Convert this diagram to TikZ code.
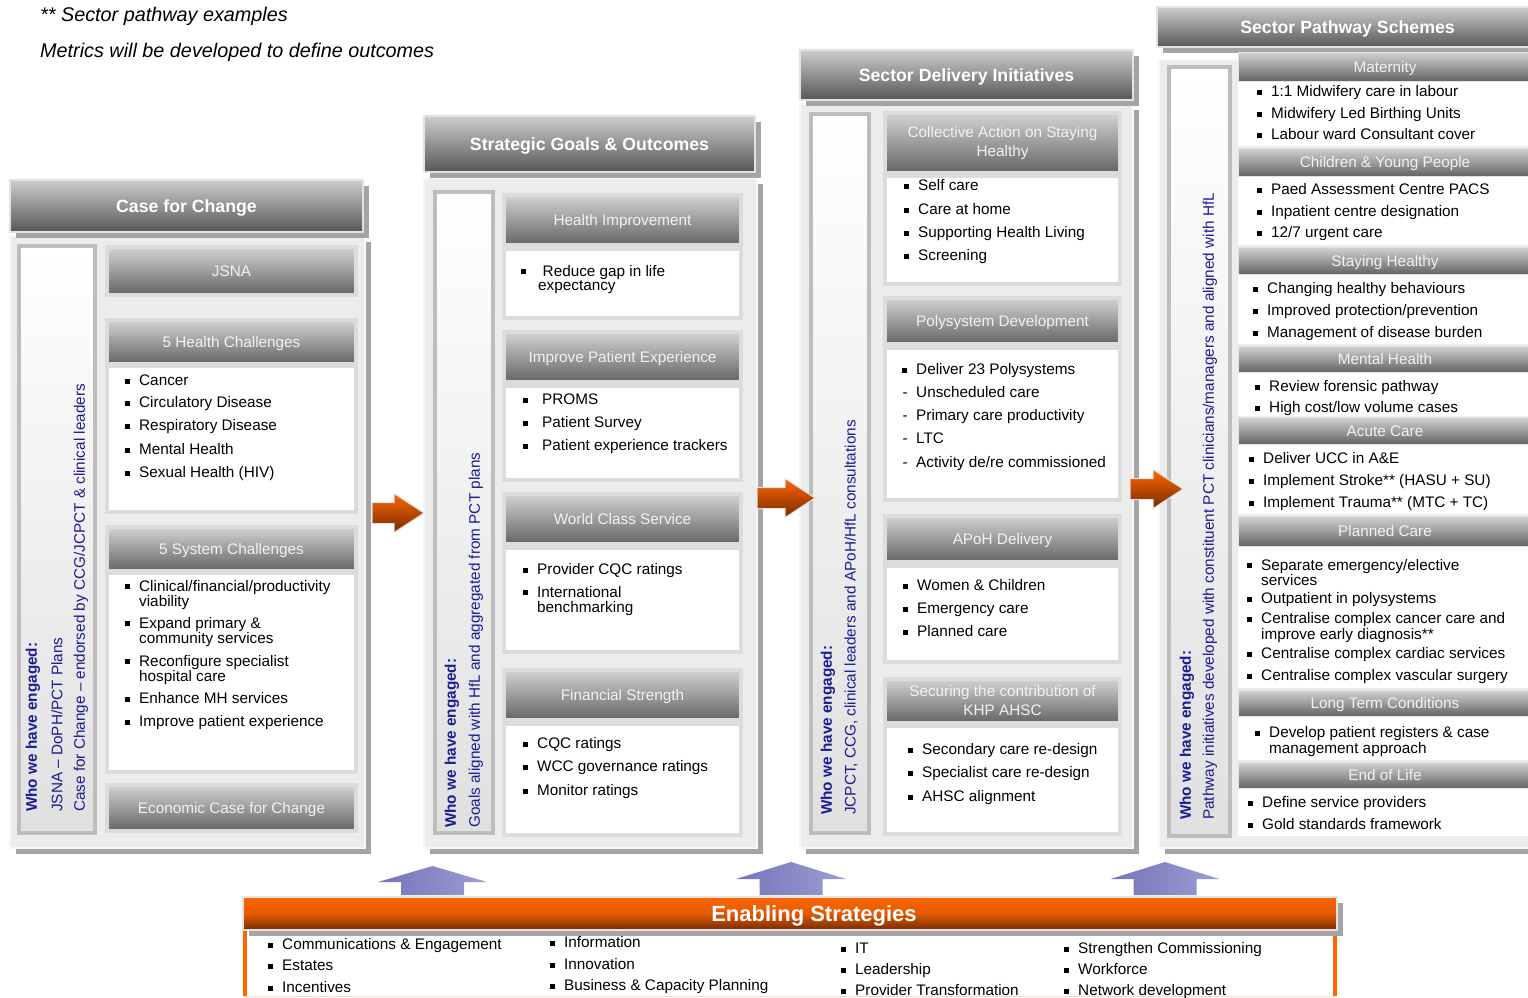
\documentclass[tikz,border=0pt]{standalone}
\usepackage{fontspec}
\setmainfont{Liberation Sans}
\usetikzlibrary{shadows}
\definecolor{hdtop}{HTML}{CDCDCD}
\definecolor{hdbot}{HTML}{575757}
\definecolor{subtop}{HTML}{D3D3D3}
\definecolor{subbot}{HTML}{646464}
\definecolor{subtext}{HTML}{F2F2F2}
\definecolor{hdedge}{HTML}{E2E2E2}
\definecolor{boxedge}{HTML}{DCDCDC}
\definecolor{panelbg}{HTML}{ECECEC}
\definecolor{paneledge}{HTML}{F7F7F7}
\definecolor{shadowgray}{HTML}{A4A4A4}
\definecolor{whoedge}{HTML}{BDBDBD}
\definecolor{whobot}{HTML}{E0E0E0}
\definecolor{whoblue}{HTML}{1B1B94}
\definecolor{esorange}{HTML}{FF6600}
\definecolor{esbrown}{HTML}{772A00}
\definecolor{uplight}{HTML}{9C9CD3}
\definecolor{updark}{HTML}{7575BA}
\newcommand\sqb[1][9.5pt]{\vphantom{Ag}\llap{\rule[2pt]{5pt}{5pt}\hspace{#1}}}
\newcommand\dsh{\vphantom{Ag}\llap{-\hspace{8.5pt}}}
\tikzset{
  % dimensioni di una scatola (pixel del disegno)
  wh/.style 2 args={minimum width=#1pt, minimum height=#2pt},
  % ombra grigia in basso a destra
  boxshadow/.style={drop shadow={shadow xshift=6pt, shadow yshift=-6pt,
    fill=shadowgray, opacity=1}},
  % note in alto a sinistra
  note/.style={anchor=west, inner sep=0pt, text height=14.2pt, text depth=0pt,
    font=\fontsize{19.8}{22}\selectfont\itshape},
  % intestazione di colonna
  colhead/.style={draw=hdedge, line width=1.5pt, top color=hdtop,
    bottom color=hdbot, text=white, inner sep=0pt, boxshadow,
    text height=12.7pt, text depth=0pt,
    font=\fontsize{17.7}{20}\selectfont\bfseries},
  % pannello grigio di colonna
  panel/.style={draw=paneledge, line width=2pt, fill=panelbg, inner sep=0pt,
    boxshadow},
  % riquadro verticale "chi abbiamo coinvolto"
  whobox/.style={draw=whoedge, line width=4pt, top color=white,
    bottom color=whobot, inner sep=0pt},
  who/.style={rotate=90, anchor=west, inner sep=0pt, text=whoblue,
    font=\fontsize{15.3}{17}\selectfont},
  whob/.style={who, font=\fontsize{15.3}{17}\selectfont\bfseries},
  % sotto-intestazione e corpo bianco
  subbase/.style={draw=boxedge, line width=4pt, top color=subtop,
    bottom color=subbot, text=subtext, align=center, inner sep=0pt,
    font=\fontsize{15.3}{19}\selectfont},
  subhead/.style={subbase, text height=11pt, text depth=0pt},
  bodybox/.style={draw=boxedge, line width=4pt, fill=white, inner sep=0pt},
  pathhead/.style={subhead, draw=hdedge, line width=1pt},
  pathbody/.style={fill=white, inner sep=0pt},
  % voce di elenco
  item/.style={anchor=west, align=left, inner sep=0pt, yshift=-2pt,
    font=\fontsize{15.3}{14}\selectfont},
  % frecce a blocco
  flow/.style={top color=esorange, bottom color=esbrown, draw=hdedge,
    line width=1pt},
  upflow/.style={left color=updark, right color=uplight},
  % strategie abilitanti
  eshead/.style={draw=hdedge, line width=1.5pt, top color=esorange,
    bottom color=esbrown, middle color=esorange!80!esbrown, inner sep=0pt,
    boxshadow},
  estitle/.style={text=white, inner sep=0pt, text height=15.8pt, text depth=0pt,
    font=\fontsize{22}{24}\selectfont\bfseries},
  esbody/.style={fill=white, inner sep=0pt},
  esside/.style={esorange, line width=4pt},
}
\begin{document}
\begin{tikzpicture}[x=1pt, y=-1pt]
  \useasboundingbox (0,0) rectangle (1528,997);
  \node[note] (nsp) at (40,14) {** Sector pathway examples};
  \node[note] (nmet) at (40,50) {Metrics will be developed to define outcomes};

  % Case for Change
  \node[panel, wh={355}{612}] (cfc) at (187.5,542) {};
  \node[colhead, wh={353}{52}] (cfch) at (186.5,206) {Case for Change};
  \node[whobox, wh={76}{587}] (cfcw) at (57,539.5) {};
  \node[whob] (cfcw1) at (33,812) {Who we have engaged:};
  \node[who] (cfcw2) at (57,812) {JSNA – DoPH/PCT Plans};
  \node[who] (cfcw3) at (81,812) {Case for Change – endorsed by CCG/JCPCT \& clinical leaders};
  \node[subhead, wh={249}{48}] (jsna) at (231.5,271) {JSNA};
  \node[subhead, wh={249}{44}] (hch) at (231.5,342) {5 Health Challenges};
  \node[bodybox, wh={249}{146}] (hcb) at (231.5,439) {};
  \foreach \yy/\txt [count=\i] in {380/Cancer, 402/Circulatory Disease,
      425/Respiratory Disease, 449/Mental Health, 472/Sexual Health (HIV)}
    \node[item] (hc\i) at (139,\yy) {\sqb\txt};
  \node[subhead, wh={249}{44}] (sch) at (231.5,549) {5 System Challenges};
  \node[bodybox, wh={249}{199}] (scb) at (231.5,672.5) {};
  \foreach \yy/\txt [count=\i] in {593/{Clinical/financial/productivity\\viability},
      630/{Expand primary \&\\community services},
      668/{Reconfigure specialist\\hospital care},
      698/Enhance MH services, 721/Improve patient experience}
    \node[item] (sc\i) at (139,\yy) {\sqb\txt};
  \node[subhead, wh={249}{46}] (ecc) at (231.5,808) {Economic Case for Change};

  % Strategic Goals & Outcomes
  \node[panel, wh={333}{670}] (sgo) at (590.5,513) {};
  \node[colhead, wh={331}{56}] (sgoh) at (589.5,144) {Strategic Goals \& Outcomes};
  \node[whobox, wh={58}{641}] (sgow) at (464,512.5) {};
  \node[whob] (sgow1) at (452,828) {Who we have engaged:};
  \node[who] (sgow2) at (476,828) {Goals aligned with HfL and aggregated from PCT plans};
  \node[subhead, wh={237}{50}] (hih) at (622.5,220) {Health Improvement};
  \node[bodybox, wh={237}{69}] (hib) at (622.5,283.5) {};
  \node[item] (hi1) at (538,277.5) {\sqb[12.5pt]\hspace{4.5pt}Reduce gap in life\\expectancy};
  \node[subhead, wh={237}{50}] (ipeh) at (622.5,357) {Improve Patient Experience};
  \node[bodybox, wh={237}{94}] (ipeb) at (622.5,433) {};
  \foreach \yy/\txt [count=\i] in {399/PROMS, 422/Patient Survey,
      445/Patient experience trackers}
    \node[item] (ipe\i) at (542,\yy) {\sqb[14.5pt]\txt};
  \node[subhead, wh={237}{50}] (wcsh) at (622.5,519) {World Class Service};
  \node[bodybox, wh={237}{104}] (wcsb) at (622.5,600) {};
  \foreach \yy/\txt [count=\i] in {569/Provider CQC ratings,
      599/{International\\benchmarking}}
    \node[item] (wcs\i) at (537,\yy) {\sqb\txt};
  \node[subhead, wh={237}{50}] (fsh) at (622.5,695) {Financial Strength};
  \node[bodybox, wh={237}{111}] (fsb) at (622.5,779.5) {};
  \foreach \yy/\txt [count=\i] in {743/CQC ratings, 766/WCC governance ratings,
      790/Monitor ratings}
    \node[item] (fs\i) at (537,\yy) {\sqb\txt};

  % Sector Delivery Initiatives
  \node[panel, wh={333}{744}] (sdi) at (966.5,476) {};
  \node[colhead, wh={333}{50}] (sdih) at (966.5,75) {Sector Delivery Initiatives};
  \node[whobox, wh={58}{719}] (sdiw) at (840,473.5) {};
  \node[whob] (sdiw1) at (828,815) {Who we have engaged:};
  \node[who] (sdiw2) at (851,815) {JCPCT, CCG, clinical leaders and APoH/HfL consultations};
  \node[subbase, wh={235}{60}] (cah) at (1002.5,143) {Collective Action on Staying\\Healthy};
  \node[bodybox, wh={235}{108}] (cab) at (1002.5,230) {};
  \foreach \yy/\txt [count=\i] in {185/Self care, 209/Care at home,
      232/Supporting Health Living, 255/Screening}
    \node[item] (ca\i) at (918,\yy) {\sqb\txt};
  \node[subhead, wh={235}{46}] (pdh) at (1002.5,321) {Polysystem Development};
  \node[bodybox, wh={235}{152}] (pdb) at (1002.5,424) {};
  \node[item] (pd1) at (916,369) {\sqb Deliver 23 Polysystems};
  \foreach \yy/\txt [count=\i from 2] in {392/Unscheduled care,
      415/Primary care productivity, 438/LTC, 462/{Activity de/re commissioned}}
    \node[item] (pd\i) at (916,\yy) {\dsh\txt};
  \node[subhead, wh={235}{46}] (aph) at (1002.5,539) {APoH Delivery};
  \node[bodybox, wh={235}{96}] (apb) at (1002.5,614) {};
  \foreach \yy/\txt [count=\i] in {585/Women \& Children, 608/Emergency care,
      631/Planned care}
    \node[item] (ap\i) at (917,\yy) {\sqb\txt};
  \node[subbase, wh={235}{44}] (khph) at (1002.5,701) {Securing the contribution of\\KHP AHSC};
  \node[bodybox, wh={235}{108}] (khpb) at (1002.5,780) {};
  \foreach \yy/\txt [count=\i] in {749/Secondary care re-design,
      772/Specialist care re-design, 796/AHSC alignment}
    \node[item] (khp\i) at (922,\yy) {\sqb\txt};

  % Sector Pathway Schemes
  \node[panel, wh={381}{788}] (sps) at (1349.5,454) {};
  \node[colhead, wh={381}{40}] (spsh) at (1347.5,27) {Sector Pathway Schemes};
  \node[whobox, wh={61}{769}] (spsw) at (1199.5,451.5) {};
  \node[whob] (spsw1) at (1187,820) {Who we have engaged:};
  \node[who] (spsw2) at (1210,820) {Pathway initiatives developed with constituent PCT clinicians/managers and aligned with HfL};
  \node[pathhead, wh={294}{29}] (math) at (1385,66.5) {Maternity};
  \node[pathbody, wh={294}{64}] (matb) at (1385,114) {};
  \foreach \yy/\txt [count=\i] in {91/1:1 Midwifery care in labour,
      113/Midwifery Led Birthing Units, 134/Labour ward Consultant cover}
    \node[item] (mat\i) at (1271,\yy) {\sqb\txt};
  \node[pathhead, wh={294}{28}] (cyph) at (1385,162) {Children \& Young People};
  \node[pathbody, wh={294}{68}] (cypb) at (1385,211) {};
  \foreach \yy/\txt [count=\i] in {189/Paed Assessment Centre PACS,
      211/Inpatient centre designation, 232/{12/7 urgent care}}
    \node[item] (cyp\i) at (1271,\yy) {\sqb\txt};
  \node[pathhead, wh={294}{27}] (shh) at (1385,260.5) {Staying Healthy};
  \node[pathbody, wh={294}{69}] (shb) at (1385,309.5) {};
  \foreach \yy/\txt [count=\i] in {288/Changing healthy behaviours,
      310/{Improved protection/prevention}, 332/Management of disease burden}
    \node[item] (sh\i) at (1267,\yy) {\sqb\txt};
  \node[pathhead, wh={294}{26}] (mhh) at (1385,359) {Mental Health};
  \node[pathbody, wh={294}{43}] (mhb) at (1385,394.5) {};
  \foreach \yy/\txt [count=\i] in {386/Review forensic pathway,
      407/{High cost/low volume cases}}
    \node[item] (mh\i) at (1269,\yy) {\sqb\txt};
  \node[pathhead, wh={294}{27}] (ach) at (1385,430.5) {Acute Care};
  \node[pathbody, wh={294}{69}] (acb) at (1385,479.5) {};
  \foreach \yy/\txt [count=\i] in {458/Deliver UCC in A\&E,
      480/Implement Stroke** (HASU + SU), 502/Implement Trauma** (MTC + TC)}
    \node[item] (ac\i) at (1263,\yy) {\sqb\txt};
  \node[pathhead, wh={294}{30}] (pch) at (1385,531) {Planned Care};
  \node[pathbody, wh={294}{141}] (pcb) at (1385,617.5) {};
  \foreach \yy/\txt [count=\i] in {570.5/{Separate emergency/elective\\services},
      598/Outpatient in polysystems,
      625.5/{Centralise complex cancer care and\\improve early diagnosis**},
      653/Centralise complex cardiac services,
      675/Centralise complex vascular surgery}
    \node[item] (pc\i) at (1261,\yy) {\sqb\txt};
  \node[pathhead, wh={294}{26}] (ltch) at (1385,703) {Long Term Conditions};
  \node[pathbody, wh={294}{43}] (ltcb) at (1385,738.5) {};
  \node[item, font=\fontsize{15.3}{16}\selectfont] (ltc1) at (1269,740)
    {\sqb Develop patient registers \& case\\management approach};
  \node[pathhead, wh={294}{26}] (eolh) at (1385,775) {End of Life};
  \node[pathbody, wh={294}{47}] (eolb) at (1385,812.5) {};
  \foreach \yy/\txt [count=\i] in {802/Define service providers,
      824/Gold standards framework}
    \node[item] (eol\i) at (1262,\yy) {\sqb\txt};

  % frecce tra le colonne
  \coordinate (ar1) at (372,513);
  \coordinate (ar2) at (757,498);
  \coordinate (ar3) at (1130,489);
  \path[flow, shift={(ar1)}] (0,-10.5) -- (22,-10.5) -- (22,-19.5) -- (52,0)
    -- (22,19.5) -- (22,10.5) -- (0,10.5) -- cycle;
  \path[flow, shift={(ar2)}] (0,-10.5) -- (28,-10.5) -- (28,-19.5) -- (58,0)
    -- (28,19.5) -- (28,10.5) -- (0,10.5) -- cycle;
  \path[flow, shift={(ar3)}] (0,-10.5) -- (23,-10.5) -- (23,-19.5) -- (53,0)
    -- (23,19.5) -- (23,10.5) -- (0,10.5) -- cycle;

  % Enabling Strategies
  \coordinate (up1) at (432.5,895);
  \coordinate (up2) at (791,895);
  \coordinate (up3) at (1165,895);
  \path[upflow, shift={(up1)}] (-31.5,0) -- (-31.5,-13) -- (-54.5,-13) -- (0,-29)
    -- (54.5,-13) -- (31.5,-13) -- (31.5,0) -- cycle;
  \path[upflow, shift={(up2)}] (-31.5,0) -- (-31.5,-16) -- (-55,-16) -- (0,-33)
    -- (55,-16) -- (31.5,-16) -- (31.5,0) -- cycle;
  \path[upflow, shift={(up3)}] (-31.5,0) -- (-31.5,-16) -- (-54.5,-16) -- (0,-33)
    -- (54.5,-16) -- (31.5,-16) -- (31.5,0) -- cycle;
  \node[esbody, wh={1090}{65}] (esb) at (790,963.5) {};
  \draw[esside] (esb.north west) -- (esb.south west);
  \draw[esside] (esb.north east) -- (esb.south east);
  \draw[esorange!25] (esb.south west) -- (esb.south east);
  \node[eshead, wh={1094}{33}] (esh) at (790,913.5) {};
  \node[estitle] (est) at (814,913.5) {Enabling Strategies};
  \foreach \yy/\txt [count=\i] in {944/Communications \& Engagement,
      965/Estates, 987/Incentives}
    \node[item] (esa\i) at (282,\yy) {\sqb\txt};
  \foreach \yy/\txt [count=\i] in {942/Information, 964/Innovation,
      985/Business \& Capacity Planning}
    \node[item] (esc\i) at (564,\yy) {\sqb\txt};
  \foreach \yy/\txt [count=\i] in {948/IT, 969/Leadership,
      990/Provider Transformation}
    \node[item] (ese\i) at (855,\yy) {\sqb\txt};
  \foreach \yy/\txt [count=\i] in {948/Strengthen Commissioning, 969/Workforce,
      990/Network development}
    \node[item] (esg\i) at (1078,\yy) {\sqb\txt};
\end{tikzpicture}
\end{document}
